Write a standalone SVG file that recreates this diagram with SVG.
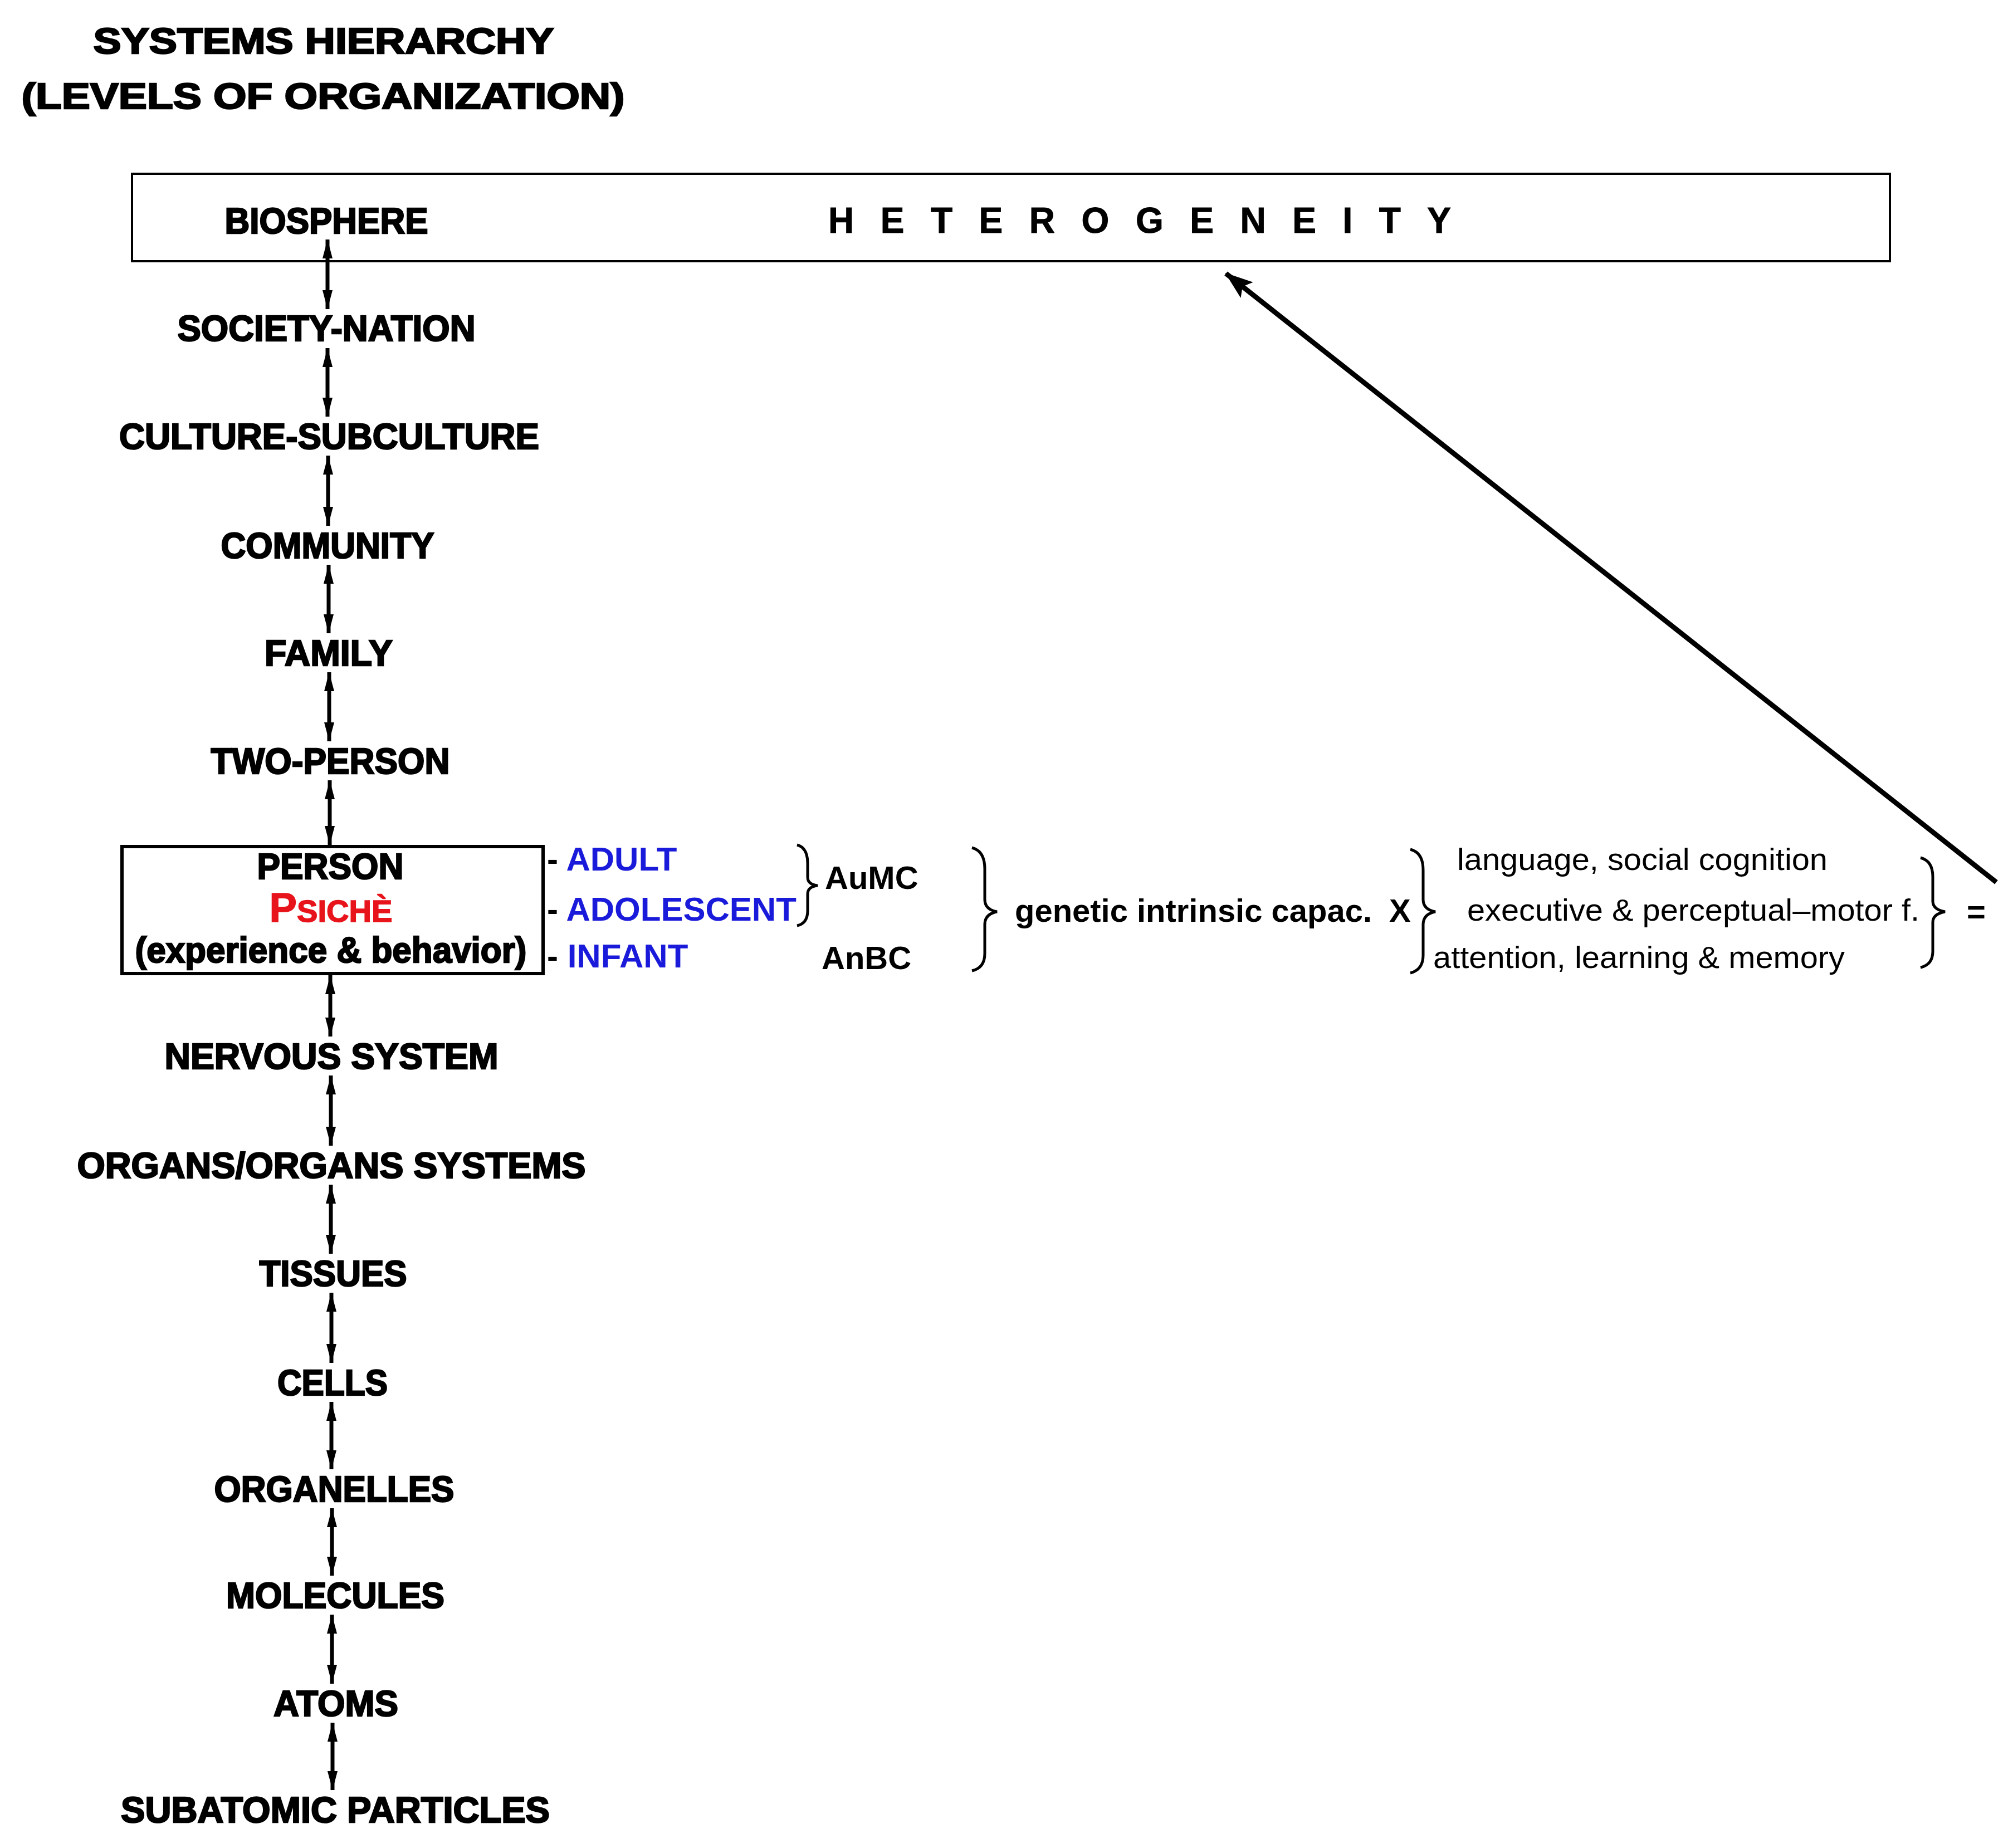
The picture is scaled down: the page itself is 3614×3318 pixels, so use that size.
<svg xmlns="http://www.w3.org/2000/svg" width="3614" height="3318" viewBox="0 0 3614 3318">
<style>
.lv{font-family:"Liberation Sans",Arial,sans-serif;font-weight:bold;font-size:64px;fill:#000;stroke:#000;stroke-width:2.5;text-anchor:middle}
.bl{font-family:"Liberation Sans",Arial,sans-serif;font-weight:bold;font-size:60px;fill:#1a1adb}
.t{font-family:"Liberation Sans",Arial,sans-serif;font-size:56px;fill:#000}
.tb{font-family:"Liberation Sans",Arial,sans-serif;font-size:58px;font-weight:bold;fill:#000}
.c{stroke:#000;stroke-width:7;fill:none}
.br{stroke:#000;stroke-width:5;fill:none}
</style>
<defs>
<marker id="ah" viewBox="0 0 34 18" refX="34" refY="9" markerWidth="34" markerHeight="18" markerUnits="userSpaceOnUse" orient="auto-start-reverse"><path d="M0,0 L34,9 L0,18 Z" fill="#000"/></marker>
<marker id="big" viewBox="0 0 50 36" refX="48" refY="18" markerWidth="50" markerHeight="36" markerUnits="userSpaceOnUse" orient="auto"><path d="M0,0 L50,18 L0,36 L10,18 Z" fill="#000"/></marker>
</defs>
<g id="title">
<text class="lv" x="581" y="96" font-size="84" textLength="827" lengthAdjust="spacingAndGlyphs">SYSTEMS  HIERARCHY</text>
<text class="lv" x="580" y="195" font-size="84" textLength="1083" lengthAdjust="spacingAndGlyphs">(LEVELS  OF  ORGANIZATION)</text>
</g>
<g id="biosphere">
<rect x="237" y="312" width="3156" height="157" fill="none" stroke="#000" stroke-width="4"/>
<text class="lv" x="586" y="419" textLength="365" lengthAdjust="spacingAndGlyphs">BIOSPHERE</text>
<text class="lv" x="2046" y="418" font-size="62" style="stroke-width:1" textLength="1118" lengthAdjust="spacing">HETEROGENEITY</text>
</g>
<g id="levels">
<text class="lv" x="586" y="612" textLength="535" lengthAdjust="spacingAndGlyphs">SOCIETY-NATION</text>
<text class="lv" x="591" y="806" textLength="754" lengthAdjust="spacingAndGlyphs">CULTURE-SUBCULTURE</text>
<text class="lv" x="588" y="1002" textLength="383" lengthAdjust="spacingAndGlyphs">COMMUNITY</text>
<text class="lv" x="590" y="1195" textLength="230" lengthAdjust="spacingAndGlyphs">FAMILY</text>
<text class="lv" x="593" y="1389" textLength="429" lengthAdjust="spacingAndGlyphs">TWO-PERSON</text>
<text class="lv" x="595" y="1919" textLength="599" lengthAdjust="spacingAndGlyphs">NERVOUS  SYSTEM</text>
<text class="lv" x="595" y="2115" textLength="913" lengthAdjust="spacingAndGlyphs">ORGANS/ORGANS  SYSTEMS</text>
<text class="lv" x="598" y="2309" textLength="265" lengthAdjust="spacingAndGlyphs">TISSUES</text>
<text class="lv" x="597" y="2505" textLength="198" lengthAdjust="spacingAndGlyphs">CELLS</text>
<text class="lv" x="600" y="2696" textLength="431" lengthAdjust="spacingAndGlyphs">ORGANELLES</text>
<text class="lv" x="602" y="2887" textLength="392" lengthAdjust="spacingAndGlyphs">MOLECULES</text>
<text class="lv" x="603" y="3081" textLength="224" lengthAdjust="spacingAndGlyphs">ATOMS</text>
<text class="lv" x="602" y="3272" textLength="770" lengthAdjust="spacingAndGlyphs">SUBATOMIC  PARTICLES</text>
</g>
<g id="person">
<rect x="219" y="1520" width="756" height="228" fill="none" stroke="#000" stroke-width="6"/>
<text class="lv" x="593" y="1578" textLength="263" lengthAdjust="spacingAndGlyphs">PERSON</text>
<text class="lv" x="594" y="1655" style="fill:#e8141b;stroke:#e8141b;stroke-width:1.5" textLength="221" lengthAdjust="spacingAndGlyphs"><tspan font-size="74">P</tspan><tspan font-size="56">SICHÈ</tspan></text>
<text class="lv" x="594" y="1728" textLength="703" lengthAdjust="spacingAndGlyphs">(experience &amp; behavior)</text>
</g>
<g id="stages">
<text class="bl" x="982" y="1563"><tspan fill="#000">- </tspan>ADULT</text>
<text class="bl" x="982" y="1653"><tspan fill="#000">- </tspan>ADOLESCENT</text>
<text class="bl" x="982" y="1737"><tspan fill="#000">- </tspan>INFANT</text>
<text class="tb" x="1481" y="1596">AuMC</text>
<text class="tb" x="1475" y="1740">AnBC</text>
</g>
<g id="formula">
<text class="tb" x="1822" y="1655" textLength="641" lengthAdjust="spacingAndGlyphs">genetic intrinsic capac.</text>
<text class="tb" x="2494" y="1655">X</text>
<text class="t" x="2616" y="1562" textLength="665" lengthAdjust="spacingAndGlyphs">language, social cognition</text>
<text class="t" x="2634" y="1653" textLength="812" lengthAdjust="spacingAndGlyphs">executive &amp; perceptual–motor f.</text>
<text class="t" x="2573" y="1738" textLength="739" lengthAdjust="spacingAndGlyphs">attention, learning &amp; memory</text>
<text class="tb" x="3531" y="1657">=</text>
</g>
<g id="braces">
<path class="br" d="M1431,1517 Q1450,1522 1450,1550 L1450,1575 Q1450,1588 1468,1590 Q1450,1592 1450,1605 L1450,1635 Q1450,1658 1431,1662"/>
<path class="br" d="M1745,1522 Q1768,1528 1768,1560 L1768,1615 Q1768,1633 1790,1637 Q1768,1641 1768,1660 L1768,1712 Q1768,1738 1745,1743"/>
<path class="br" d="M2532,1525 Q2555,1531 2555,1562 L2555,1615 Q2555,1633 2577,1637 Q2555,1641 2555,1660 L2555,1715 Q2555,1741 2532,1747"/>
<path class="br" d="M3448,1540 Q3470,1546 3470,1574 L3470,1618 Q3470,1633 3492,1637 Q3470,1641 3470,1656 L3470,1708 Q3470,1732 3448,1737"/>
</g>
<g id="connectors">
<line class="c" x1="588" y1="430" x2="588" y2="555" marker-start="url(#ah)" marker-end="url(#ah)"/>
<line class="c" x1="588" y1="625" x2="588" y2="748" marker-start="url(#ah)" marker-end="url(#ah)"/>
<line class="c" x1="589" y1="818" x2="589" y2="944" marker-start="url(#ah)" marker-end="url(#ah)"/>
<line class="c" x1="590" y1="1014" x2="590" y2="1137" marker-start="url(#ah)" marker-end="url(#ah)"/>
<line class="c" x1="591" y1="1207" x2="591" y2="1331" marker-start="url(#ah)" marker-end="url(#ah)"/>
<line class="c" x1="592" y1="1401" x2="592" y2="1517" marker-start="url(#ah)" marker-end="url(#ah)"/>
<line class="c" x1="593" y1="1751" x2="593" y2="1861" marker-start="url(#ah)" marker-end="url(#ah)"/>
<line class="c" x1="594" y1="1931" x2="594" y2="2057" marker-start="url(#ah)" marker-end="url(#ah)"/>
<line class="c" x1="594" y1="2127" x2="594" y2="2251" marker-start="url(#ah)" marker-end="url(#ah)"/>
<line class="c" x1="595" y1="2321" x2="595" y2="2447" marker-start="url(#ah)" marker-end="url(#ah)"/>
<line class="c" x1="595" y1="2517" x2="595" y2="2638" marker-start="url(#ah)" marker-end="url(#ah)"/>
<line class="c" x1="596" y1="2708" x2="596" y2="2829" marker-start="url(#ah)" marker-end="url(#ah)"/>
<line class="c" x1="596" y1="2899" x2="596" y2="3023" marker-start="url(#ah)" marker-end="url(#ah)"/>
<line class="c" x1="597" y1="3093" x2="597" y2="3214" marker-start="url(#ah)" marker-end="url(#ah)"/>
<line stroke="#000" stroke-width="9" x1="3584" y1="1584" x2="2201" y2="491" marker-end="url(#big)"/>
</g>
</svg>
